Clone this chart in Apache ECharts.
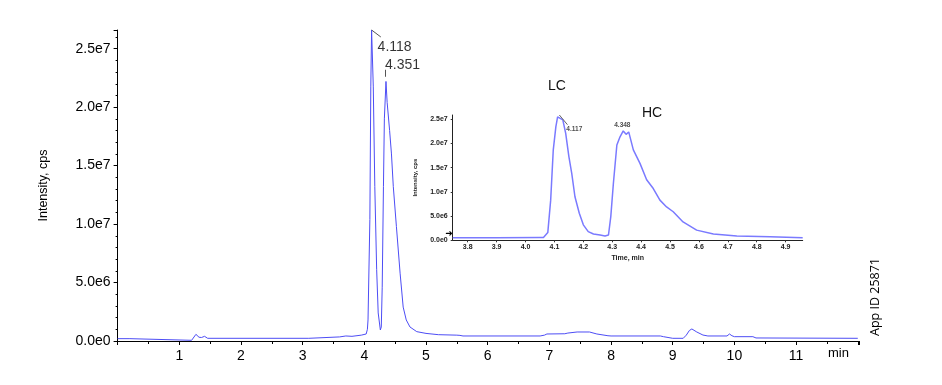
<!DOCTYPE html>
<html>
<head>
<meta charset="utf-8">
<script src="https://cdn.jsdelivr.net/npm/echarts@6/dist/echarts.min.js"></script>
<style>html,body{margin:0;padding:0;background:#fff;}#c{width:942px;height:385px;}</style>
</head>
<body>
<div id="c"></div>
<script>
// ---- main chromatogram (time in min, intensity in cps) ----
var mainTimes = [0,0.2,0.21,1.2,1.22,1.27,1.32,1.36,1.41,1.46,3.1,3.12,3.6,3.7,3.8,3.95,4.03,4.05,4.06,4.09,4.105,4.118,4.145,4.17,4.2,4.225,4.26,4.275,4.29,4.31,4.325,4.351,4.37,4.41,4.44,4.47,4.52,4.58,4.63,4.68,4.74,4.85,5.0,5.2,5.5,5.55,5.6,6.85,6.88,6.92,6.96,7.25,7.3,7.45,7.65,7.77,7.95,8.0,8.8,8.85,9.0,9.17,9.22,9.27,9.31,9.39,9.49,9.57,9.88,9.92,9.96,10.0,10.3,10.35,12.0];
var mainValues = [2.0e5,2.0e5,0.6e5,0.6e5,2.0e5,5.7e5,3.2e5,3.0e5,4.0e5,2.3e5,2.3e5,3.2e5,3.5e5,4.3e5,4.0e5,5.0e5,6.0e5,1.0e6,1.8e6,1.04e7,2.18e7,2.66e7,2.18e7,1.32e7,6.1e6,2.4e6,9.4e5,1.2e6,4.6e6,1.32e7,1.9e7,2.22e7,2.04e7,1.8e7,1.6e7,1.32e7,9.8e6,5.8e6,2.9e6,1.8e6,1.2e6,8.0e5,6.5e5,5.4e5,5.0e5,4.8e5,4.3e5,4.3e5,6.0e5,5.0e5,6.0e5,6.2e5,6.8e5,7.7e5,7.7e5,6.0e5,4.5e5,4.3e5,4.3e5,3.7e5,2.3e5,2.3e5,5.0e5,9.0e5,1.03e6,7.7e5,5.1e5,4.3e5,4.3e5,6.0e5,4.5e5,3.7e5,3.7e5,2.6e5,2.3e5];
var mainPeakTimes = [4.118, 4.351];
var mainPeakValues = [2.66e7, 2.22e7];
var mainPeakLabels = ['4.118', '4.351'];
var mainXTickLabels = ['', '1', '2', '3', '4', '5', '6', '7', '8', '9', '10', '11', ''];

// ---- inset zoom (LC / HC) ----
var insetTimes = [3.748,3.9,4.05,4.062,4.077,4.087,4.096,4.105,4.111,4.117,4.129,4.139,4.15,4.16,4.171,4.186,4.2,4.217,4.235,4.258,4.275,4.287,4.295,4.304,4.316,4.327,4.338,4.348,4.357,4.373,4.396,4.419,4.442,4.465,4.488,4.511,4.545,4.592,4.65,4.731,4.846,4.959];
var insetValues = [5.5e5,5.5e5,6.0e5,6.0e5,1.6e6,8.3e6,1.87e7,2.35e7,2.55e7,2.59e7,2.49e7,2.21e7,1.73e7,1.38e7,9.0e6,5.6e6,3.2e6,1.8e6,1.3e6,1.1e6,9.0e5,1.1e6,4.9e6,1.18e7,1.97e7,2.14e7,2.26e7,2.19e7,2.24e7,1.87e7,1.59e7,1.25e7,1.07e7,8.3e6,6.9e6,5.9e6,3.8e6,2.1e6,1.3e6,9.0e5,7.5e5,5.5e5];
var insetPeakTimes = [4.117, 4.338];
var insetPeakValues = [2.59e7, 2.26e7];
var insetPeakLabels = ['4.117', '4.348'];

function sci(v) {
  if (v === 0) return '0.0e0';
  var e = Math.floor(Math.log10(v) + 1e-9);
  var m = v / Math.pow(10, e);
  return m.toFixed(1) + 'e' + e;
}
function zip(a, b) { return a.map(function (x, i) { return [x, b[i]]; }); }

var FONT = 'Liberation Sans, Arial, sans-serif';
var chart = echarts.init(document.getElementById('c'), null, {renderer: 'canvas'});

chart.setOption({
  animation: false,
  backgroundColor: '#ffffff',
  grid: [
    {left: 117.6, right: 83, top: 30, bottom: 44},
    {left: 452.7, right: 139.3, top: 115, bottom: 144.7}
  ],
  xAxis: [
    {
      gridIndex: 0, type: 'value', min: 0, max: 12.02, interval: 1,
      axisLine: {lineStyle: {color: '#000', width: 1}},
      axisTick: {show: true, length: 4, lineStyle: {color: '#000'}},
      minorTick: {show: true, splitNumber: 2, length: 3, lineStyle: {color: '#000'}},
      splitLine: {show: false},
      axisLabel: {showMinLabel: false, showMaxLabel: false, margin: 8, color: '#000', fontSize: 14, fontFamily: FONT,
        formatter: function (v) { var i = Math.round(v); return (Math.abs(v - i) < 1e-6 && mainXTickLabels[i] !== undefined) ? mainXTickLabels[i] : ''; }}
    },
    {
      gridIndex: 1, type: 'value', min: 3.748, max: 4.959, splitNumber: 12,
      axisLine: {lineStyle: {color: '#222', width: 1}},
      axisTick: {show: true, length: 2, lineStyle: {color: '#333'}},
      splitLine: {show: false},
      axisLabel: {showMinLabel: false, showMaxLabel: false, margin: 3, color: '#222', fontSize: 7, fontWeight: 'bold', fontFamily: FONT,
        formatter: function (v) { return v.toFixed(1); }},
      name: 'Time, min', nameLocation: 'middle', nameGap: 14,
      nameTextStyle: {color: '#222', fontSize: 7, fontWeight: 'bold', fontFamily: FONT}
    }
  ],
  yAxis: [
    {
      gridIndex: 0, type: 'value', min: 0, max: 2.66e7, interval: 5e6,
      axisLine: {show: true, lineStyle: {color: '#000', width: 1}},
      axisTick: {show: true, length: 4, lineStyle: {color: '#000'}},
      minorTick: {show: true, splitNumber: 5, length: 2, lineStyle: {color: '#000'}},
      splitLine: {show: false},
      axisLabel: {showMaxLabel: false, margin: 7, color: '#000', fontSize: 14, fontFamily: FONT,
        formatter: function (v) { return sci(v); }},
      name: 'Intensity, cps', nameLocation: 'middle', nameRotate: 90, nameGap: 68,
      nameTextStyle: {color: '#000', fontSize: 12.5, fontFamily: FONT}
    },
    {
      gridIndex: 1, type: 'value', min: 0, max: 2.59e7, interval: 5e6,
      axisLine: {show: true, lineStyle: {color: '#222', width: 1}},
      axisTick: {show: true, length: 2, lineStyle: {color: '#333'}},
      splitLine: {show: false},
      axisLabel: {showMaxLabel: false, margin: 5, color: '#222', fontSize: 7, fontWeight: 'bold', fontFamily: FONT,
        formatter: function (v) { return sci(v); }},
      name: 'Intensity, cps', nameLocation: 'middle', nameRotate: 90, nameGap: 34,
      nameTextStyle: {color: '#222', fontSize: 6, fontWeight: 'bold', fontFamily: FONT}
    }
  ],
  series: [
    {
      type: 'line', xAxisIndex: 0, yAxisIndex: 0, data: zip(mainTimes, mainValues),
      showSymbol: false, symbol: 'none', clip: false,
      lineStyle: {color: '#4d4df5', width: 1}
    },
    {
      type: 'scatter', xAxisIndex: 0, yAxisIndex: 0, symbolSize: 0, silent: true,
      data: mainPeakTimes.map(function (t, i) {
        return {
          value: [t, mainPeakValues[i]],
          label: {show: true, formatter: mainPeakLabels[i], position: i === 0 ? [6, 17] : [-1, -16],
            align: 'left', verticalAlign: 'middle', color: '#000', fontSize: 14, fontFamily: FONT}
        };
      }),
      markLine: {
        silent: true, symbol: 'none', label: {show: false},
        lineStyle: {color: '#555', width: 1, type: 'solid'},
        data: [
          [{coord: [mainPeakTimes[0], mainPeakValues[0]]}, {coord: [mainPeakTimes[0] + 0.15, mainPeakValues[0] - 6e5]}],
          [{coord: [mainPeakTimes[1] - 0.016, mainPeakValues[1] + 4e5]}, {coord: [mainPeakTimes[1] - 0.016, mainPeakValues[1] + 1.0e6]}]
        ]
      }
    },
    {
      type: 'line', xAxisIndex: 1, yAxisIndex: 1, data: zip(insetTimes, insetValues),
      showSymbol: false, symbol: 'none',
      lineStyle: {color: '#7a7aff', width: 1.5}
    },
    {
      type: 'scatter', xAxisIndex: 1, yAxisIndex: 1, symbolSize: 0, silent: true,
      data: insetPeakTimes.map(function (t, i) {
        return {
          value: [t, insetPeakValues[i]],
          label: {show: true, formatter: insetPeakLabels[i], position: i === 0 ? [7, 14] : [-9, -6],
            align: 'left', verticalAlign: 'middle', color: '#222', fontSize: 6.5, fontWeight: 'bold', fontFamily: FONT}
        };
      }),
      markLine: {
        silent: true, symbol: 'none', label: {show: false},
        lineStyle: {color: '#666', width: 1, type: 'solid'},
        data: [
          [{coord: [insetPeakTimes[0], insetPeakValues[0]]}, {coord: [insetPeakTimes[0] + 0.028, insetPeakValues[0] - 2.0e6]}]
        ]
      }
    }
  ],
  graphic: [
    {type: 'text', left: 828, top: 347, style: {text: 'min', fill: '#000', font: '13px ' + FONT}},
    {type: 'text', x: 875, y: 297, rotation: Math.PI / 2,
      style: {text: 'App ID 25871', fill: '#000', font: '12.5px "Open Sans", sans-serif', align: 'center', verticalAlign: 'middle'}},
    {type: 'text', x: 557, y: 86, style: {text: 'LC', fill: '#111', font: '14px ' + FONT, align: 'center', verticalAlign: 'middle'}},
    {type: 'text', x: 652, y: 113, style: {text: 'HC', fill: '#111', font: '14px ' + FONT, align: 'center', verticalAlign: 'middle'}},
    {type: 'text', x: 449, y: 234, style: {text: '➜', fill: '#000', font: '9px "DejaVu Sans"', align: 'center', verticalAlign: 'middle'}}
  ]
});
</script>
</body>
</html>
